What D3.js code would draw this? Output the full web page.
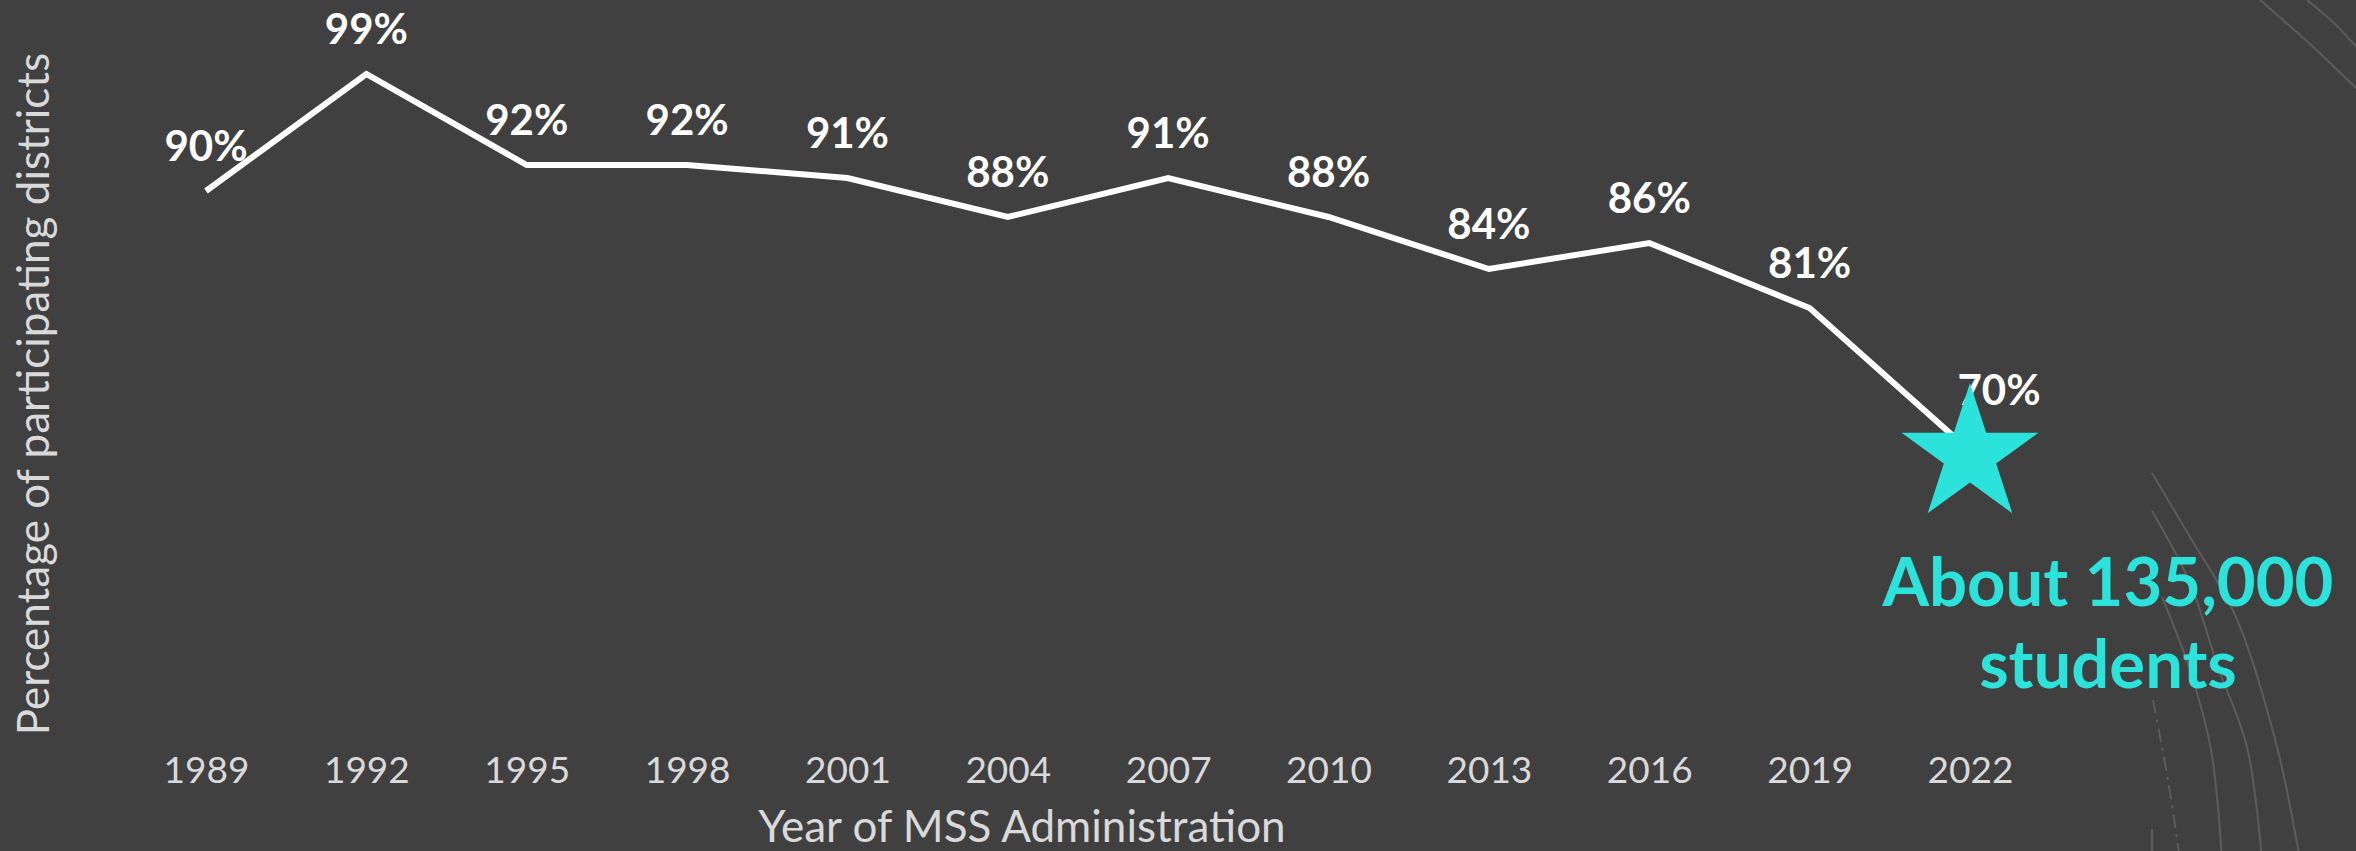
<!doctype html>
<html lang='en'>
<head>
    <meta charset='UTF-8'>
    <title>MSS participation</title>
    <style>
        html, body {
            margin: 0;
            padding: 0;
            background: #404040;
        }
        svg {
            display: block;
        }
        text {
            font-family: Lato, 'Open Sans', sans-serif;
        }
    </style>
</head>
<body>

<script src='https://d3js.org/d3.v7.min.js'></script>
<script>
  const years = ['1989', '1992', '1995', '1998', '2001', '2004', '2007', '2010', '2013', '2016', '2019', '2022']
  const pct = [90, 99, 92, 92, 91, 88, 91, 88, 84, 86, 81, 70]
  const valueLabels = ['90%', '99%', '92%', '92%', '91%', '88%', '91%', '88%', '84%', '86%', '81%', '70%']
  const note = ['About 135,000', 'students']

  const w = 2356
  const h = 851
  const cyan = '#2ce3dc'
  const grey = '#d9d9d9'

  const xScale = d3.scalePoint()
    .domain(years)
    .range([206, 1970])

  const yScale = d3.scaleLinear()
    .domain([50, 100])
    .range([711, 61])

  const svg = d3.select('body')
    .append('svg')
    .attr('width', w)
    .attr('height', h)

  svg.append('rect')
    .attr('width', w)
    .attr('height', h)
    .attr('fill', '#404040')

  /********************  decoration arcs ******************/

  const deco = svg.append('g')
    .attr('fill', 'none')
    .attr('stroke', '#5c5c5c')
    .attr('stroke-width', 2)

  const curve = d3.line().curve(d3.curveCatmullRom)
  deco.append('path').attr('d', curve([[2152, 473], [2190, 537], [2236, 617], [2277, 747], [2300, 860]]))
  deco.append('path').attr('d', curve([[2152, 511], [2190, 583], [2218, 667], [2247, 747], [2262, 860]]))
  deco.append('path').attr('d', curve([[2162, 597], [2190, 670], [2211, 750], [2222, 860]]))
  deco.append('path').attr('d', curve([[2153, 700], [2168, 780], [2180, 860]]))
    .attr('stroke-dasharray', '14 6 3 6')
  deco.append('path').attr('d', 'M2152,829 L2152,860')
  deco.append('path').attr('d', curve([[2260, 0], [2310, 44], [2360, 92]]))
  deco.append('path').attr('d', curve([[2307, 0], [2335, 24], [2360, 51]]))

  /********************  axes ******************/

  const xAxis = svg.append('g')
    .attr('transform', 'translate(0,751)')
    .call(d3.axisBottom(xScale).tickSize(0).tickPadding(0))

  xAxis.select('.domain').remove()
  xAxis.selectAll('text')
    .attr('dy', 0)
    .attr('y', 32)
    .attr('fill', grey)
    .attr('font-size', '37px')

  svg.append('text')
    .attr('x', 1022)
    .attr('y', 842)
    .attr('text-anchor', 'middle')
    .attr('fill', grey)
    .attr('font-size', '44px')
    .text('Year of MSS Administration')

  svg.append('text')
    .attr('transform', 'translate(49,394) rotate(-90)')
    .attr('text-anchor', 'middle')
    .attr('fill', grey)
    .attr('font-size', '44px')
    .text('Percentage of participating districts')

  /********************  line ******************/

  const line = d3.line()
    .x((d, i) => xScale(years[i]))
    .y(d => yScale(d))

  svg.append('path')
    .datum(pct)
    .attr('d', line)
    .attr('fill', 'none')
    .attr('stroke', '#fff')
    .attr('stroke-width', 6)
    .attr('stroke-linejoin', 'miter')

  /********************  labels ******************/

  const last = pct.length - 1

  svg.selectAll('text.val')
    .data(pct)
    .enter()
    .append('text')
    .attr('class', 'val')
    .attr('x', (d, i) => xScale(years[i]) + (i === last ? 29 : 0))
    .attr('y', (d, i) => yScale(d) - (i === last ? 46 : 30))
    .attr('text-anchor', 'middle')
    .attr('fill', '#fff')
    .attr('font-weight', 'bold')
    .attr('font-size', '42px')
    .text((d, i) => valueLabels[i])

  svg.append('path')
    .attr('d', d3.symbol(d3.symbolStar, 5820)())
    .attr('transform', `translate(${xScale(years[last])},${yScale(pct[last]) + 4})`)
    .attr('fill', cyan)

  svg.selectAll('text.note')
    .data(note)
    .enter()
    .append('text')
    .attr('class', 'note')
    .attr('x', 2108)
    .attr('y', (d, i) => 606 + i * 82)
    .attr('text-anchor', 'middle')
    .attr('fill', cyan)
    .attr('font-weight', 'bold')
    .attr('font-size', '67px')
    .text(d => d)
</script>
</body>
</html>
